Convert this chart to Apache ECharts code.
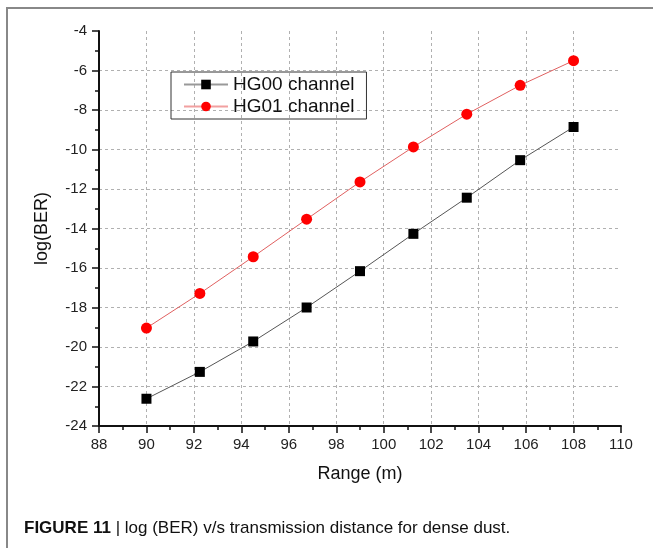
<!DOCTYPE html>
<html><head><meta charset="utf-8">
<script src="https://cdn.jsdelivr.net/npm/echarts@6/dist/echarts.min.js"></script>
<style>html,body{margin:0;padding:0;background:#fff}#c{width:653px;height:548px}</style>
</head><body><div id="c"></div>
<script>
const rangeX = [90, 92.25, 94.5, 96.75, 99, 101.25, 103.5, 105.75, 108];
const hg00 = [-22.62, -21.26, -19.72, -18.0, -16.16, -14.27, -12.44, -10.54, -8.86];
const hg01 = [-19.04, -17.29, -15.43, -13.53, -11.64, -9.87, -8.21, -6.75, -5.5];
const seriesNames = ['HG00 channel', 'HG01 channel'];
const xTitle = 'Range (m)';
const yTitle = 'log(BER)';
const caption = 'FIGURE 11';
const captionRest = ' | log (BER) v/s transmission distance for dense dust.';

const chart = echarts.init(document.getElementById('c'));
const font = 'Liberation Sans, Arial, sans-serif';
const pair = (xs, ys) => xs.map((x, i) => [x, ys[i]]);
const axisCommon = {
  axisLine: { show: true, onZero: false, lineStyle: { color: '#111', width: 2 } },
  axisTick: { show: true, inside: false, length: 7, lineStyle: { color: '#111', width: 1.5 } },
  minorTick: { show: true, splitNumber: 2, length: 4, lineStyle: { color: '#111', width: 1.5 } },
  splitLine: { show: true, showMinLine: false, showMaxLine: false, lineStyle: { color: '#b0b0b0', type: [3, 3], width: 1 } },
  axisLabel: { color: '#222', fontSize: 15, fontFamily: font },
  nameTextStyle: { color: '#111', fontSize: 18, fontFamily: font }
};
chart.setOption({
  animation: false,
  grid: { left: 99, right: 32, top: 31, bottom: 122 },
  legend: {
    orient: 'vertical', left: 171, top: 72,
    data: [
      { name: seriesNames[0], lineStyle: { color: '#999' } },
      { name: seriesNames[1], lineStyle: { color: '#f2a0a0' } }
    ],
    borderColor: '#333', borderWidth: 1, padding: [3, 12, 3, 12], itemGap: 3,
    itemWidth: 44, itemHeight: 12,
    textStyle: { fontSize: 19, color: '#111', fontFamily: font }
  },
  xAxis: Object.assign({}, axisCommon, {
    type: 'value', min: 88, max: 110, interval: 2,
    name: xTitle, nameLocation: 'middle', nameGap: 39,
    axisLabel: Object.assign({}, axisCommon.axisLabel, { margin: 11 })
  }),
  yAxis: Object.assign({}, axisCommon, {
    type: 'value', min: -24, max: -4, interval: 2,
    name: yTitle, nameLocation: 'middle', nameGap: 48,
    axisLabel: Object.assign({}, axisCommon.axisLabel, { margin: 12 })
  }),
  series: [
    { name: seriesNames[0], type: 'line', data: pair(rangeX, hg00), symbol: 'rect', symbolSize: 10,
      itemStyle: { color: '#000' }, lineStyle: { color: '#555', width: 1 } },
    { name: seriesNames[1], type: 'line', data: pair(rangeX, hg01), symbol: 'circle', symbolSize: 11,
      itemStyle: { color: '#ff0000' }, lineStyle: { color: '#e06060', width: 1 } }
  ],
  graphic: [
    { type: 'line', shape: { x1: 6, y1: 8, x2: 653, y2: 8 }, style: { stroke: '#888', lineWidth: 2 } },
    { type: 'line', shape: { x1: 7, y1: 8, x2: 7, y2: 548 }, style: { stroke: '#888', lineWidth: 2 } },
    { type: 'text', left: 24, top: 520,
      style: { text: '{b|' + caption + '}{r|' + captionRest + '}',
        rich: { b: { fontWeight: 'bold', fontSize: 17, fontFamily: font, fill: '#111' },
                r: { fontSize: 17, fontFamily: font, fill: '#111' } } } }
  ]
});
</script></body></html>
